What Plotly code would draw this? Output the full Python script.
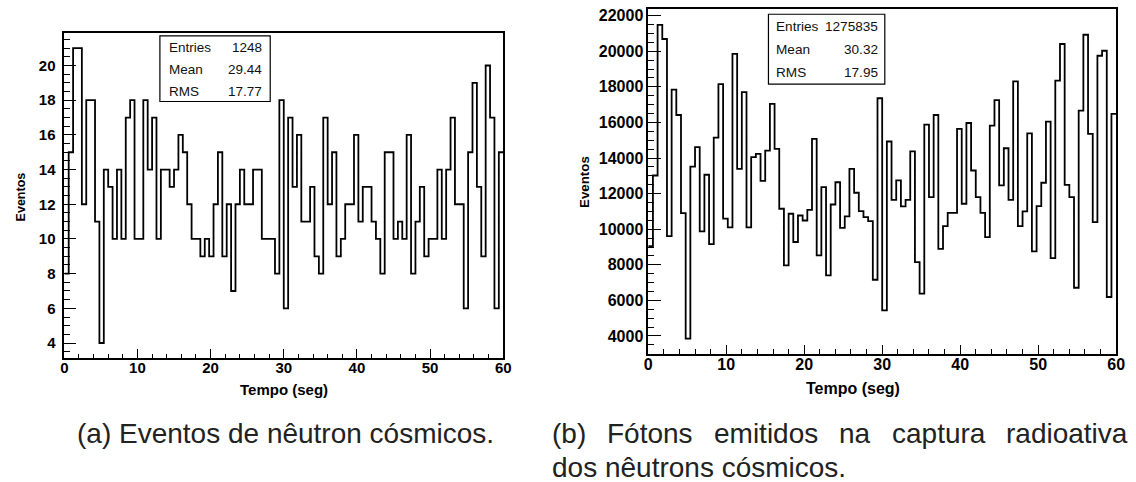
import numpy as np
import plotly.graph_objects as go

W, H = 1136, 482

# Histogram binning: 100 bins of 0.6 s between 0 and 60 s
x_min, x_max, n_bins = 0.0, 60.0, 100

# (a) cosmic neutron events per bin
neutron_counts = [
    8, 15, 21, 21, 12, 18, 18, 11, 4, 14,
    13, 10, 14, 10, 17, 18, 10, 10, 18, 14,
    17, 10, 14, 14, 13, 14, 16, 15, 12, 10,
    10, 9, 10, 9, 12, 15, 9, 12, 7, 12,
    14, 12, 12, 14, 14, 10, 10, 10, 8, 18,
    6, 17, 13, 16, 11, 11, 13, 9, 8, 17,
    12, 15, 9, 10, 12, 12, 16, 11, 13, 13,
    11, 10, 8, 15, 15, 10, 11, 10, 16, 8,
    11, 13, 9, 10, 10, 14, 10, 14, 17, 12,
    12, 6, 15, 19, 13, 9, 20, 17, 6, 15,
]

# (b) photons from radiative capture per bin
photon_counts = [
    9050, 13020, 21480, 20690, 9610, 17850, 16420, 10900, 3850, 13520,
    14610, 9880, 13060, 9160, 15150, 18160, 10590, 10100, 19850, 13390,
    17700, 10100, 14050, 14230, 12720, 14420, 17040, 14510, 11150, 7970,
    10870, 9280, 10770, 10490, 11090, 15080, 8530, 12360, 7400, 11390,
    12640, 10080, 10720, 13390, 12050, 11020, 10680, 10450, 7160, 17360,
    5440, 14930, 11650, 12740, 11280, 11650, 14380, 8150, 6380, 15880,
    11800, 16420, 8900, 10170, 10920, 10920, 15640, 11430, 15970, 13300,
    11800, 10920, 9560, 15820, 17260, 12460, 14550, 11650, 18310, 10170,
    11000, 15390, 8750, 11300, 12610, 16050, 8380, 18350, 20410, 12490,
    11800, 6710, 16670, 20930, 15360, 10400, 19750, 20030, 6190, 16480,
]

neutron_stats = [("Entries", "1248"), ("Mean", "29.44"), ("RMS", "17.77")]
photon_stats = [("Entries", "1275835"), ("Mean", "30.32"), ("RMS", "17.95")]

x_ticks = [0, 10, 20, 30, 40, 50, 60]
neutron_y_ticks = [4, 6, 8, 10, 12, 14, 16, 18, 20]
photon_y_ticks = [4000, 6000, 8000, 10000, 12000, 14000, 16000, 18000, 20000, 22000]

x_title = "Tempo (seg)"
y_title = "Eventos"
caption_a = "(a) Eventos de nêutron cósmicos."
caption_b_line1 = ["(b)", "Fótons", "emitidos", "na", "captura", "radioativa"]
caption_b_line2 = "dos nêutrons cósmicos."

FONT = "Liberation Sans, Arial, Helvetica, sans-serif"


def px(x):
    return x / W


def py(y):
    return 1 - y / H


def step_outline(counts):
    edges = np.linspace(x_min, x_max, n_bins + 1)
    heights = list(counts) + [counts[-1]]
    return edges, heights


fig = go.Figure()

ex, ey = step_outline(neutron_counts)
fig.add_trace(go.Scatter(x=ex, y=ey, mode="lines", line_shape="hv",
                         line=dict(color="black", width=1.8),
                         xaxis="x", yaxis="y", showlegend=False,
                         hoverinfo="skip"))
ex2, ey2 = step_outline(photon_counts)
fig.add_trace(go.Scatter(x=ex2, y=ey2, mode="lines", line_shape="hv",
                         line=dict(color="black", width=1.8),
                         xaxis="x2", yaxis="y2", showlegend=False,
                         hoverinfo="skip"))


def x_axis(domain, anchor, size):
    return dict(domain=domain, anchor=anchor, range=[x_min, x_max],
                tickmode="array", tickvals=x_ticks,
                ticktext=[str(t) for t in x_ticks],
                ticks="inside", ticklen=9, tickwidth=1, tickcolor="black",
                ticklabelstandoff=-5,
                showline=True, linecolor="black", linewidth=1.5, mirror=True,
                showgrid=False, zeroline=False,
                tickfont=dict(family=FONT, size=size, color="black", weight="bold"),
                minor=dict(dtick=2, tick0=0, ticks="inside", ticklen=4.5,
                           tickwidth=1, tickcolor="black", showgrid=False))


def y_axis(domain, anchor, rng, vals, minor_step, size, major_len, minor_len, standoff):
    return dict(domain=domain, anchor=anchor, range=rng,
                tickmode="array", tickvals=vals,
                ticktext=[str(v) for v in vals],
                ticks="inside", ticklen=major_len, tickwidth=1, tickcolor="black",
                ticklabelstandoff=standoff,
                showline=True, linecolor="black", linewidth=1.5, mirror=True,
                showgrid=False, zeroline=False,
                tickfont=dict(family=FONT, size=size, color="black", weight="bold"),
                minor=dict(dtick=minor_step, tick0=0, ticks="inside",
                           ticklen=minor_len, tickwidth=1, tickcolor="black",
                           showgrid=False))


# frame positions in pixels
L1, R1, T1, B1 = 61, 505, 32.5, 357.5
L2, R2, T2, B2 = 651.7, 1125, 7.8, 353.3

fig.update_layout(
    width=W, height=H,
    margin=dict(l=0, r=0, t=0, b=0),
    paper_bgcolor="white", plot_bgcolor="white",
    xaxis=x_axis([px(L1), px(R1)], "y", 15),
    yaxis=y_axis([py(B1), py(T1)], "x", [3.15, 21.85], neutron_y_ticks, 0.5, 15, 12, 6, 4),
    xaxis2=x_axis([px(L2), px(R2)], "y2", 16),
    yaxis2=y_axis([py(B2), py(T2)], "x2", [3010, 22390], photon_y_ticks, 500, 16, 13, 6.5, 0),
)

annotations = []
shapes = []


def stats_box(x0, x1, y0, y1, rows, row_y, lab_x, val_x, size):
    shapes.append(dict(type="rect", xref="paper", yref="paper",
                       x0=px(x0), x1=px(x1), y0=py(y1), y1=py(y0),
                       line=dict(color="black", width=1.2), fillcolor="white"))
    for (lab, val), yy in zip(rows, row_y):
        annotations.append(dict(text=lab, x=px(lab_x), y=py(yy), xref="paper", yref="paper",
                                xanchor="left", yanchor="middle", showarrow=False,
                                font=dict(family=FONT, size=size, color="#111")))
        annotations.append(dict(text=val, x=px(val_x), y=py(yy), xref="paper", yref="paper",
                                xanchor="right", yanchor="middle", showarrow=False,
                                font=dict(family=FONT, size=size, color="#111")))


stats_box(157.7, 269.3, 35, 100.7, neutron_stats, [47, 69, 91], 164.5, 263.5, 13.5)
stats_box(773.3, 891, 13.3, 83.3, photon_stats, [26, 49, 72], 779, 886, 13.6)


def text_at(text, x, y, size, bold=False, angle=0, anchor="center", color="black"):
    annotations.append(dict(text=text, x=px(x), y=py(y), xref="paper", yref="paper",
                            xanchor=anchor, yanchor="middle", showarrow=False,
                            textangle=angle,
                            font=dict(family=FONT, size=size, color=color,
                                      weight="bold" if bold else "normal")))


# axis titles
text_at(x_title, 283, 389, 15, bold=True)
text_at(y_title, 17, 196, 12.5, bold=True, angle=-90)
text_at(x_title, 859, 388, 16, bold=True)
text_at(y_title, 587, 181, 13.3, bold=True, angle=-90)

# captions
CAP = 28
CAP_COLOR = "#222222"
text_at(caption_a, 285, 433, CAP, color=CAP_COLOR)
word_x = [552, 608.4, 716.2, 842.6, 895.9, 1011.5]
for w, xw in zip(caption_b_line1, word_x):
    text_at(w, xw, 433, CAP, anchor="left", color=CAP_COLOR)
text_at(caption_b_line2, 552, 467, CAP, anchor="left", color=CAP_COLOR)

fig.update_layout(annotations=annotations, shapes=shapes)

fig.write_html("out.html")
